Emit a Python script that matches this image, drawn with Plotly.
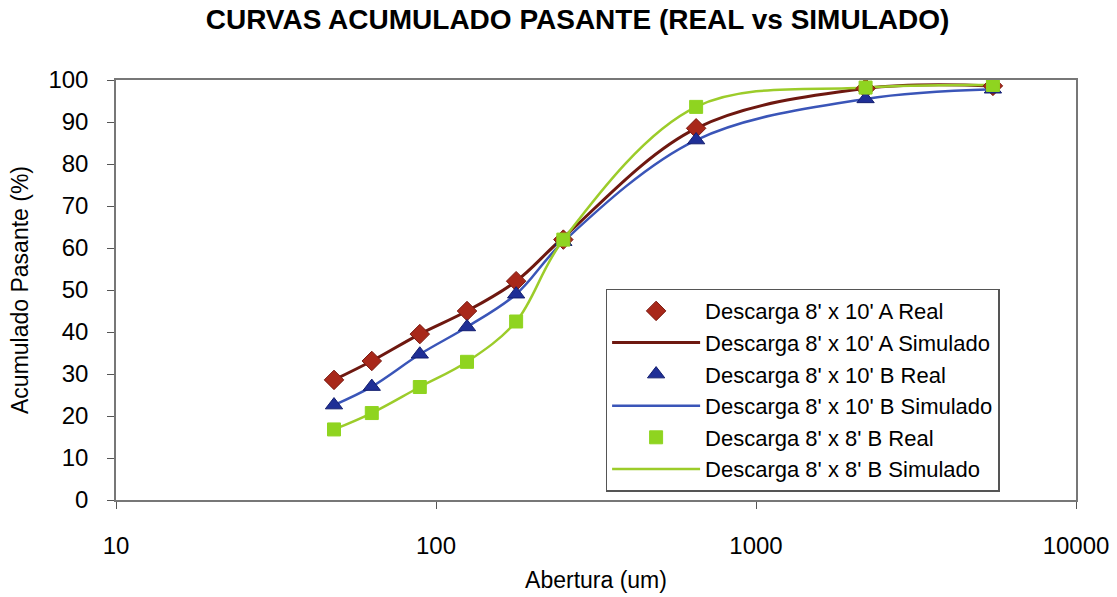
import plotly.graph_objects as go

abertura = [48, 63, 89, 125, 178, 250, 650, 2200, 5500]

a_real = [28.6, 33.1, 39.5, 45.0, 52.1, 62.0, 88.5, 98.0, 98.6]
a_sim = [28.6, 33.1, 39.5, 45.0, 52.1, 62.5, 88.5, 98.0, 98.6]
b_real = [22.6, 27.0, 34.7, 41.2, 49.0, 61.5, 85.7, 95.5, 97.8]
b_sim = [22.6, 27.0, 34.7, 41.2, 49.0, 61.5, 85.7, 95.5, 97.8]
c_real = [16.8, 20.7, 26.9, 32.9, 42.5, 62.0, 93.6, 98.2, 98.8]
c_sim = [16.8, 20.7, 26.9, 32.9, 42.5, 62.0, 93.6, 98.2, 98.8]

names = [
    "Descarga 8' x 10' A Real",
    "Descarga 8' x 10' A Simulado",
    "Descarga 8' x 10' B Real",
    "Descarga 8' x 10' B Simulado",
    "Descarga 8' x 8' B Real",
    "Descarga 8' x 8' B Simulado",
]

title = "CURVAS ACUMULADO PASANTE (REAL vs SIMULADO)"
x_title = "Abertura (um)"
y_title = "Acumulado Pasante (%)"
x_ticks = [10, 100, 1000, 10000]
y_ticks = list(range(0, 101, 10))

fig = go.Figure()

fig.add_trace(go.Scatter(x=abertura, y=a_sim, mode="lines", name=names[1],
                         line=dict(color="#6e1810", width=3, shape="spline"),
                         legendrank=2))
fig.add_trace(go.Scatter(x=abertura, y=b_sim, mode="lines", name=names[3],
                         line=dict(color="#3a55b8", width=2.5, shape="spline"),
                         legendrank=4))
fig.add_trace(go.Scatter(x=abertura, y=c_sim, mode="lines", name=names[5],
                         line=dict(color="#9ccc2a", width=2.5, shape="spline"),
                         legendrank=6))

fig.add_trace(go.Scatter(x=abertura, y=a_real, mode="markers", name=names[0],
                         marker=dict(symbol="diamond", size=15, color="#a8281a",
                                     line=dict(color="#7a1b12", width=1)),
                         legendrank=1))
fig.add_trace(go.Scatter(x=abertura, y=b_real, mode="markers", name=names[2],
                         marker=dict(symbol="triangle-up", size=15, color="#1f2f96",
                                     line=dict(color="#141f70", width=1)),
                         legendrank=3))
fig.add_trace(go.Scatter(x=abertura, y=c_real, mode="markers", name=names[4],
                         marker=dict(symbol="square", size=13, color="#8fd420",
                                     line=dict(color="#8fd420", width=1)),
                         legendrank=5))

font = "Liberation Sans, Arial, sans-serif"

fig.update_layout(
    width=1117, height=597,
    margin=dict(l=116, r=41, t=80, b=97),
    paper_bgcolor="white", plot_bgcolor="white",
    font=dict(family=font, color="black", size=24),
    title=dict(text="<b>" + title + "</b>", x=0.517, xanchor="center",
               y=0.968, yanchor="middle", font=dict(size=28, family=font)),
    showlegend=True,
    legend=dict(x=0.51, y=0.02, xanchor="left", yanchor="bottom",
                bgcolor="white", bordercolor="#555555", borderwidth=1.5,
                font=dict(size=22, family=font),
                traceorder="normal", itemwidth=88),
)

fig.update_xaxes(type="log", range=[1, 4], tickvals=x_ticks,
                 ticktext=[str(v) for v in x_ticks],
                 showgrid=False, zeroline=False, automargin=False,
                 showline=True, linecolor="#777777", linewidth=1.5, mirror=True,
                 ticks="outside", ticklen=7, tickcolor="#555555",
                 ticklabelstandoff=16, tickfont=dict(size=24),
                 title=dict(text=x_title, standoff=14, font=dict(size=23)))
fig.update_yaxes(range=[0, 100], tickvals=y_ticks,
                 showgrid=False, zeroline=False, automargin=False,
                 showline=True, linecolor="#777777", linewidth=1.5, mirror=True,
                 ticks="outside", ticklen=7, tickcolor="#555555",
                 ticklabelstandoff=14, tickfont=dict(size=24),
                 title=dict(text=y_title, standoff=13, font=dict(size=23)))

fig.write_html("out.html")
